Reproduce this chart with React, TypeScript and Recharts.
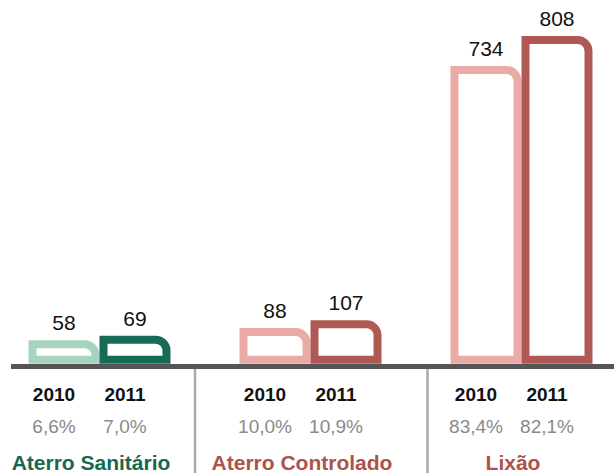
import { Bar, BarChart, Cell, LabelList, XAxis, YAxis } from 'recharts';

const CATEGORIES = ['Aterro Sanitário', 'Aterro Controlado', 'Lixão'];
const YEARS = ['2010', '2011'];
const VALUES_2010 = [58, 88, 734];
const VALUES_2011 = [69, 107, 808];
const SHARE_2010 = ['6,6%', '10,0%', '83,4%'];
const SHARE_2011 = ['7,0%', '10,9%', '82,1%'];

const LIGHT = ['#a7d4be', '#e9aba5', '#e9aba5'];
const DARK = ['#156b53', '#b05853', '#b05853'];
const LABEL_COLOR = ['#16694f', '#ad524d', '#ad524d'];
// divider to the left of a group, relative to its tick
const DIVIDER_SHIFT = [null, -115, -93.5];

const FONT = '"Liberation Sans", Arial, Helvetica, sans-serif';

const data = CATEGORIES.map((name, i) => ({
  name,
  y2010: VALUES_2010[i],
  y2011: VALUES_2011[i],
}));

function OutlineBar(props: any) {
  const { x, y, width, height, stroke } = props;
  if (!height || height <= 0) return null;
  const half = 4;
  const l = x + half;
  const r = x + width - half;
  const t = y + half;
  const b = y + height - half;
  const rad = Math.min(11, b - t, r - l);
  const d = `M${l},${b} L${l},${t} L${r - rad},${t} A${rad},${rad} 0 0 1 ${r},${t + rad} L${r},${b} Z`;
  return <path d={d} fill="#fff" stroke={stroke} strokeWidth={8} strokeLinejoin="miter" />;
}

function GroupTick({ x, y, index }: any) {
  const shift = DIVIDER_SHIFT[index];
  const yearX = [x - 45, x + 26];
  const shares = [SHARE_2010[index], SHARE_2011[index]];
  return (
    <g fontFamily={FONT}>
      {shift != null && (
        <line x1={x + shift} x2={x + shift} y1={y + 2.5} y2={y + 110} stroke="#a9a9ac" strokeWidth={2.5} />
      )}
      {YEARS.map((yr, k) => (
        <text key={yr} x={yearX[k]} y={y + 34.5} textAnchor="middle" fontSize={19} fontWeight="bold" fill="#111">
          {yr}
        </text>
      ))}
      {shares.map((s, k) => (
        <text key={k} x={yearX[k]} y={y + 66.5} textAnchor="middle" fontSize={19} fill="#8a8a8a">
          {s}
        </text>
      ))}
      <text x={x - 8} y={y + 103.5} textAnchor="middle" fontSize={21} fontWeight="bold" fill={LABEL_COLOR[index]}>
        {CATEGORIES[index]}
      </text>
    </g>
  );
}

export default function App() {
  return (
    <div style={{ position: 'absolute', left: 0, top: 0, width: 614, height: 473, background: '#fff' }}>
      <BarChart
        width={614}
        height={473}
        data={data}
        margin={{ top: 19, right: 0, bottom: 0, left: 11 }}
        barGap={0}
        barSize={71}
      >
        <XAxis
          dataKey="name"
          height={106.5}
          interval={0}
          padding={{ left: -17.5, right: -12.5 }}
          tickLine={false}
          tickSize={0}
          tickMargin={0}
          axisLine={{ stroke: '#555557', strokeWidth: 5 }}
          tick={<GroupTick />}
        />
        <YAxis hide domain={[-7, 850]} allowDataOverflow />
        <Bar dataKey="y2010" shape={<OutlineBar />} isAnimationActive={false}>
          {data.map((_, i) => (
            <Cell key={i} stroke={LIGHT[i]} />
          ))}
          <LabelList dataKey="y2010" position="top" offset={10} fontSize={21} fill="#111" fontFamily={FONT} />
        </Bar>
        <Bar dataKey="y2011" shape={<OutlineBar />} isAnimationActive={false}>
          {data.map((_, i) => (
            <Cell key={i} stroke={DARK[i]} />
          ))}
          <LabelList dataKey="y2011" position="top" offset={10} fontSize={21} fill="#111" fontFamily={FONT} />
        </Bar>
      </BarChart>
    </div>
  );
}
